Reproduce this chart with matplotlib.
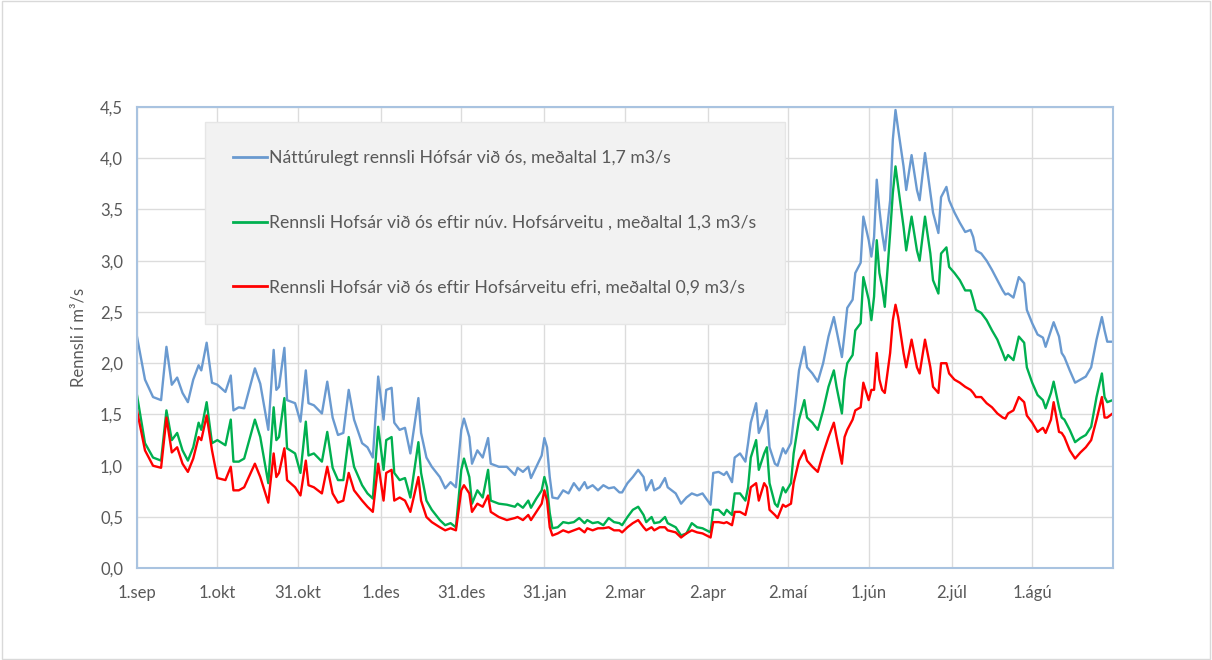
import matplotlib
matplotlib.use("Agg")
import matplotlib.pyplot as plt
from matplotlib.patches import Rectangle

plt.rcParams['font.family'] = ['Lato', 'DejaVu Sans']

# day number counted from 1. september, value in m3/s
days = [0, 3, 6, 9, 11, 13, 15, 17, 19, 21, 23, 24, 26, 28, 30, 33, 35, 36, 38, 40,
        44, 46, 49, 51, 52, 53, 55, 56, 59, 61, 63, 64, 66, 69, 71, 73, 75, 77, 79, 81,
        84, 86, 88, 90, 92, 93, 95, 96, 98, 100, 102, 105, 106, 108, 110, 113, 115, 117, 119, 121,
        122, 124, 125, 127, 129, 131, 132, 135, 138, 141, 142, 144, 146, 147, 149, 151, 152, 153, 154, 155,
        157, 159, 161, 163, 165, 167, 168, 170, 172, 174, 176, 178, 180, 181, 183, 185, 187, 189, 190, 192,
        193, 195, 197, 198, 201, 203, 205, 207, 209, 211, 214, 215, 217, 219, 220, 222, 223, 225, 227, 228,
        229, 231, 232, 234, 235, 236, 238, 239, 241, 242, 244, 245, 247, 249, 250, 252, 254, 256, 258, 260,
        261, 263, 264, 265, 267, 268, 270, 271, 273, 274, 275, 276, 277, 278, 279, 281, 282, 283, 284, 286,
        287, 289, 291, 292, 294, 296, 297, 299, 300, 302, 303, 305, 307, 309, 311, 312, 313, 315, 317, 319,
        321, 323, 324, 325, 327, 329, 331, 332, 334, 336, 338, 339, 341, 342, 344, 345, 346, 348, 350, 352,
        354, 356, 358, 360, 361, 362, 364]

natturulegt = [2.26, 1.84, 1.67, 1.64, 2.16, 1.79, 1.86, 1.71, 1.62, 1.84, 1.98, 1.93, 2.20, 1.81, 1.79, 1.72, 1.88, 1.54, 1.57, 1.56,
               1.95, 1.80, 1.35, 2.13, 1.74, 1.77, 2.15, 1.64, 1.61, 1.43, 1.93, 1.61, 1.59, 1.51, 1.82, 1.47, 1.30, 1.32, 1.74, 1.45,
               1.22, 1.18, 1.08, 1.87, 1.45, 1.74, 1.76, 1.42, 1.35, 1.37, 1.12, 1.66, 1.32, 1.08, 0.99, 0.89, 0.78, 0.84, 0.79, 1.35,
               1.46, 1.28, 1.02, 1.15, 1.08, 1.27, 1.02, 0.99, 0.99, 0.91, 0.98, 0.94, 0.99, 0.88, 0.99, 1.10, 1.27, 1.18, 0.89, 0.69,
               0.68, 0.76, 0.73, 0.83, 0.76, 0.84, 0.78, 0.81, 0.76, 0.81, 0.78, 0.79, 0.74, 0.74, 0.83, 0.89, 0.96, 0.89, 0.76, 0.86,
               0.76, 0.79, 0.88, 0.79, 0.73, 0.63, 0.69, 0.73, 0.71, 0.73, 0.62, 0.93, 0.94, 0.91, 0.94, 0.84, 1.08, 1.12, 1.04, 1.22,
               1.42, 1.61, 1.32, 1.45, 1.54, 1.18, 1.02, 1.00, 1.17, 1.12, 1.22, 1.45, 1.93, 2.16, 1.96, 1.90, 1.82, 2.00, 2.26, 2.45,
               2.32, 2.06, 2.29, 2.54, 2.62, 2.88, 2.98, 3.43, 3.20, 3.04, 3.23, 3.79, 3.50, 3.27, 3.10, 3.59, 4.18, 4.47, 4.28, 3.92,
               3.69, 4.03, 3.69, 3.59, 4.05, 3.66, 3.47, 3.27, 3.62, 3.72, 3.59, 3.47, 3.37, 3.28, 3.30, 3.23, 3.10, 3.07, 3.00, 2.91,
               2.81, 2.71, 2.67, 2.68, 2.64, 2.84, 2.78, 2.52, 2.39, 2.28, 2.25, 2.16, 2.32, 2.40, 2.26, 2.10, 2.06, 1.93, 1.81, 1.84,
               1.87, 1.96, 2.23, 2.45, 2.32, 2.21, 2.21]

nuv_veita = [1.69, 1.22, 1.08, 1.05, 1.54, 1.25, 1.32, 1.15, 1.05, 1.18, 1.42, 1.35, 1.62, 1.22, 1.25, 1.20, 1.45, 1.04, 1.04, 1.07,
             1.45, 1.28, 0.83, 1.57, 1.25, 1.28, 1.66, 1.17, 1.12, 0.93, 1.43, 1.10, 1.12, 1.04, 1.33, 0.98, 0.86, 0.86, 1.28, 0.99,
             0.81, 0.73, 0.68, 1.38, 0.96, 1.25, 1.28, 0.93, 0.86, 0.88, 0.69, 1.23, 0.93, 0.66, 0.57, 0.47, 0.42, 0.44, 0.40, 0.96,
             1.07, 0.89, 0.63, 0.76, 0.69, 0.96, 0.66, 0.63, 0.62, 0.60, 0.63, 0.59, 0.66, 0.59, 0.68, 0.76, 0.89, 0.79, 0.54, 0.39,
             0.40, 0.45, 0.44, 0.45, 0.49, 0.44, 0.47, 0.44, 0.45, 0.42, 0.49, 0.45, 0.44, 0.42, 0.50, 0.57, 0.60, 0.52, 0.45, 0.50,
             0.44, 0.45, 0.50, 0.44, 0.40, 0.32, 0.34, 0.44, 0.40, 0.39, 0.35, 0.57, 0.57, 0.52, 0.57, 0.52, 0.73, 0.73, 0.66, 0.79,
             1.08, 1.25, 0.96, 1.12, 1.18, 0.83, 0.63, 0.60, 0.79, 0.74, 0.83, 1.12, 1.45, 1.64, 1.47, 1.42, 1.35, 1.54, 1.77, 1.93,
             1.77, 1.51, 1.84, 2.00, 2.08, 2.32, 2.39, 2.84, 2.62, 2.42, 2.65, 3.20, 2.88, 2.74, 2.55, 3.27, 3.66, 3.92, 3.72, 3.33,
             3.10, 3.43, 3.10, 3.00, 3.43, 3.07, 2.81, 2.68, 3.07, 3.13, 2.94, 2.88, 2.81, 2.71, 2.71, 2.62, 2.52, 2.49, 2.42, 2.32,
             2.23, 2.10, 2.03, 2.08, 2.03, 2.26, 2.20, 1.96, 1.81, 1.69, 1.64, 1.56, 1.71, 1.82, 1.57, 1.47, 1.45, 1.35, 1.23, 1.27,
             1.30, 1.38, 1.67, 1.90, 1.67, 1.62, 1.64]

efri_veita = [1.54, 1.15, 1.00, 0.98, 1.47, 1.13, 1.18, 1.02, 0.94, 1.07, 1.28, 1.25, 1.49, 1.15, 0.88, 0.86, 0.99, 0.76, 0.76, 0.79,
              1.02, 0.89, 0.64, 1.12, 0.89, 0.93, 1.17, 0.86, 0.79, 0.71, 1.05, 0.81, 0.79, 0.73, 0.99, 0.73, 0.64, 0.66, 0.93, 0.76,
              0.66, 0.60, 0.55, 1.02, 0.66, 0.93, 0.96, 0.66, 0.69, 0.66, 0.55, 0.89, 0.66, 0.50, 0.45, 0.40, 0.37, 0.39, 0.37, 0.76,
              0.81, 0.73, 0.55, 0.63, 0.60, 0.71, 0.55, 0.50, 0.47, 0.49, 0.50, 0.47, 0.52, 0.47, 0.55, 0.63, 0.76, 0.66, 0.40, 0.32,
              0.34, 0.37, 0.35, 0.37, 0.39, 0.35, 0.39, 0.37, 0.39, 0.39, 0.40, 0.37, 0.37, 0.35, 0.40, 0.44, 0.47, 0.40, 0.37, 0.40,
              0.37, 0.40, 0.40, 0.37, 0.35, 0.30, 0.34, 0.37, 0.35, 0.34, 0.30, 0.45, 0.45, 0.44, 0.45, 0.42, 0.55, 0.55, 0.52, 0.63,
              0.79, 0.83, 0.66, 0.83, 0.79, 0.57, 0.52, 0.49, 0.62, 0.60, 0.63, 0.83, 1.05, 1.15, 1.05, 0.99, 0.94, 1.12, 1.28, 1.42,
              1.28, 1.02, 1.28, 1.35, 1.45, 1.54, 1.57, 1.81, 1.64, 1.74, 1.74, 2.10, 1.84, 1.74, 1.71, 2.10, 2.42, 2.57, 2.45, 2.10,
              1.96, 2.23, 1.96, 1.90, 2.23, 1.96, 1.77, 1.71, 2.00, 2.00, 1.90, 1.84, 1.81, 1.77, 1.74, 1.71, 1.67, 1.67, 1.61, 1.57,
              1.51, 1.47, 1.46, 1.51, 1.54, 1.67, 1.62, 1.49, 1.42, 1.33, 1.37, 1.32, 1.45, 1.62, 1.33, 1.32, 1.28, 1.15, 1.07, 1.13,
              1.18, 1.25, 1.45, 1.67, 1.47, 1.47, 1.51]

labels = ['Náttúrulegt rennsli Hófsár við ós, meðaltal 1,7 m3/s',
          'Rennsli Hofsár við ós eftir núv. Hofsárveitu , meðaltal 1,3 m3/s',
          'Rennsli Hofsár við ós eftir Hofsárveitu efri, meðaltal 0,9 m3/s']
colors = ['#6A9AD0', '#00B050', '#FF0000']

tick_days = [0, 30, 60, 91, 121, 152, 182, 213, 243, 273, 304, 334]
tick_labels = ['1.sep', '1.okt', '31.okt', '1.des', '31.des', '31.jan',
               '2.mar', '2.apr', '2.maí', '1.jún', '2.júl', '1.ágú']
y_ticks = [0.0, 0.5, 1.0, 1.5, 2.0, 2.5, 3.0, 3.5, 4.0, 4.5]

text_color = '#595959'

fig = plt.figure(figsize=(12.12, 6.6), dpi=100)
fig.patches.append(Rectangle((0.002, 0.002), 0.996, 0.996, transform=fig.transFigure,
                             fill=False, edgecolor='#D9D9D9', linewidth=1))
ax = fig.add_axes([0.113, 0.139, 0.805, 0.699])

for vals, lab, col in zip([natturulegt, nuv_veita, efri_veita], labels, colors):
    ax.plot(days, vals, color=col, linewidth=1.7, label=lab)

ax.set_xlim(0, 364)
ax.set_ylim(0, 4.5)
ax.set_xticks(tick_days)
ax.set_xticklabels(tick_labels)
ax.set_yticks(y_ticks)
ax.set_yticklabels([f'{v:.1f}'.replace('.', ',') for v in y_ticks])
ax.tick_params(length=0, labelsize=12, colors=text_color)
ax.tick_params(axis='x', pad=12)
ax.tick_params(axis='y', pad=10)
ax.grid(True, color='#DCDCDC', linewidth=1)
ax.set_axisbelow(True)
for sp in ax.spines.values():
    sp.set_color('#A9C3E0')
    sp.set_linewidth(1.5)

ax.set_ylabel('Rennsli í m³/s', fontsize=12, color=text_color, labelpad=10)

leg = ax.legend(loc='upper left', bbox_to_anchor=(0.070, 0.967, 0.594, 0.0), mode='expand',
                fontsize=12.7, labelspacing=2.75, handlelength=1.9, handletextpad=0.1,
                borderpad=1.6, borderaxespad=0, fancybox=False, framealpha=1,
                facecolor='#F2F2F2', edgecolor='#E6E6E6', labelcolor=text_color)
leg.get_frame().set_linewidth(1)
for line in leg.get_lines():
    line.set_linewidth(2)

fig.savefig('out.png', dpi=100)
